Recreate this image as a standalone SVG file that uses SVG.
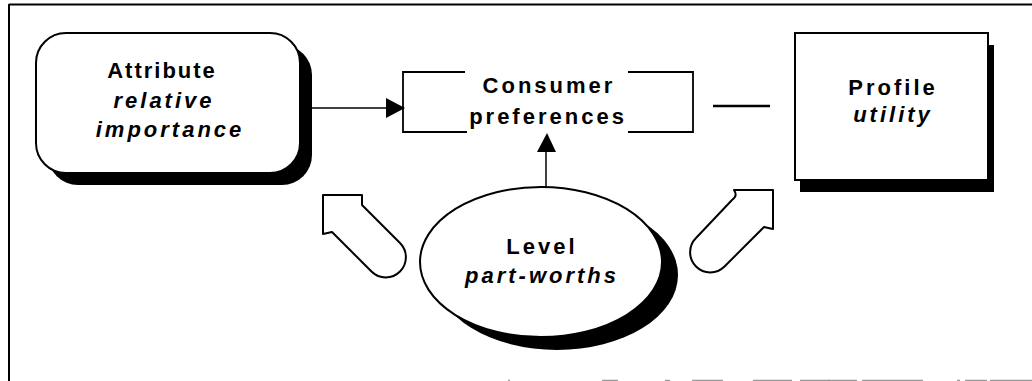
<svg xmlns="http://www.w3.org/2000/svg" width="1032" height="381" viewBox="0 0 1032 381">
<style>
.t{font-family:"Liberation Sans",Arial,sans-serif;font-weight:bold;font-size:22px;letter-spacing:3px;text-anchor:middle;fill:#000}
.i{font-style:italic}
.box{fill:#fff;stroke:#000;stroke-width:2}
.sh{fill:#000}
.ln{stroke:#000;fill:none}
.blk{fill:#fff;stroke:#000;stroke-width:2;stroke-linejoin:round}
</style>
<rect width="1032" height="381" fill="#fff"/>
<g id="frame">
<line x1="9" y1="4.5" x2="1032" y2="4.5" stroke="#000" stroke-width="2"/>
<line x1="9" y1="4" x2="9" y2="381" stroke="#000" stroke-width="2"/>
<g stroke="#999" stroke-width="1.5">
<line x1="508" y1="380.5" x2="510" y2="380.5"/>
<line x1="602" y1="380.5" x2="618" y2="380.5"/>
<line x1="665" y1="380.5" x2="670" y2="380.5"/>
<line x1="692" y1="380.5" x2="723" y2="380.5"/>
<line x1="753" y1="380.5" x2="792" y2="380.5"/>
<line x1="800" y1="380.5" x2="830" y2="380.5"/>
<line x1="828" y1="380.5" x2="857" y2="380.5"/>
<line x1="862" y1="380.5" x2="923" y2="380.5"/>
<line x1="957" y1="380.5" x2="960" y2="380.5"/>
<line x1="965" y1="380.5" x2="987" y2="380.5"/>
<line x1="990" y1="380.5" x2="1032" y2="380.5"/>
</g>
</g>
<g id="connectors">
<line class="ln" x1="300" y1="108" x2="390" y2="108" stroke-width="1.5"/>
<polygon points="386,98 405,108 386,118" fill="#000"/>
<line class="ln" x1="546" y1="187" x2="546" y2="150" stroke-width="1.5"/>
<polygon points="537,152 547,133 556,152" fill="#000"/>
<line class="ln" x1="713" y1="106" x2="770" y2="106" stroke-width="2.5"/>
</g>
<g id="attribute">
<rect class="sh" x="48" y="45" width="264" height="140" rx="30"/>
<rect class="box" x="36" y="33" width="264" height="140" rx="30"/>
<text class="t" x="162" y="78" style="letter-spacing:2px">Attribute</text>
<text class="t i" x="164" y="108">relative</text>
<text class="t i" x="170" y="137">importance</text>
</g>
<g id="consumer">
<path class="ln" stroke-width="1.8" d="M465,72 H403 V132 H467 M628,132 H693 V72 H628"/>
<text class="t" x="549" y="93">Consumer</text>
<text class="t" x="548" y="124">preferences</text>
</g>
<g id="profile">
<rect class="sh" x="800" y="45" width="194" height="147"/>
<rect class="box" x="795" y="33" width="193" height="147"/>
<text class="t" x="893" y="95">Profile</text>
<text class="t i" x="893" y="122">utility</text>
</g>
<g id="level">
<ellipse class="sh" cx="557" cy="275" rx="121" ry="75"/>
<ellipse class="box" cx="541" cy="262" rx="121" ry="75"/>
<text class="t" x="542" y="254">Level</text>
<text class="t i" x="542" y="283">part-worths</text>
</g>
<g id="arrow-left">
<path class="blk" d="M323,195 L362,195 L362,205 L400,243 A20.15,20.15 0 0 1 371.5,271.5 L332,232 L323,234 Z"/>
</g>
<g id="arrow-right">
<path class="blk" d="M773,190 L734,190 Q738,196 732,200 L696,238 A20.15,20.15 0 0 0 724.5,266.5 L764,227 Q768,228 773,229 Z"/>
</g>
</svg>
